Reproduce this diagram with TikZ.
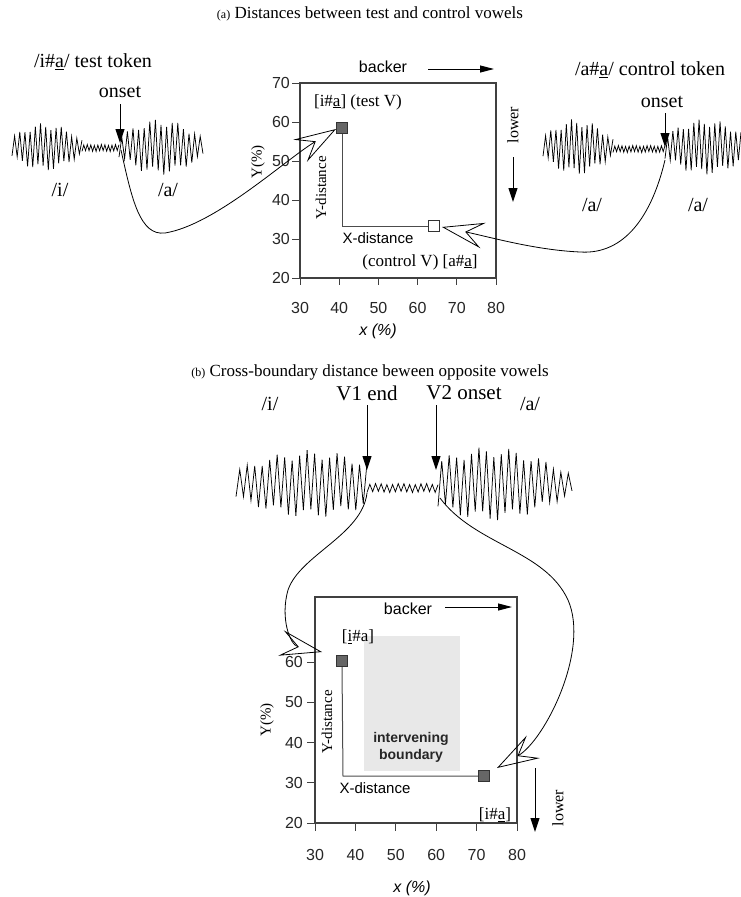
\documentclass[tikz,border=0pt]{standalone}
\usepackage{fontspec}
\setmainfont{Liberation Serif}
\setsansfont{Liberation Sans}
\usetikzlibrary{arrows.meta}
\newcommand\zzwave[8]{%
  \pgfmathtruncatemacro\zzN{round((#2-#1)/#5)}%
  \pgfmathtruncatemacro\zzM{\zzN+1}%
  \pgfmathsetmacro\zzD{(#2-#1)/\zzN}%
  \draw[wave] plot[domain=0:\zzN, samples=\zzM, variable=\zi]
   ({#1+\zi*\zzD},{#3+cos(180*\zi)*#4*(0.15+0.85*sin(180*(#6+(#7-#6)*\zi/\zzN)))*(0.86+0.14*sin(\zi*137+#8))});%
}
\tikzset{
  wave/.style={line width=0.75pt, line join=miter},
  chartframe/.style={draw=black!75, line width=1.2pt},
  tk/.style={draw=black!75, line width=0.9pt},
  ticklab/.style={font=\sffamily\fontsize{16}{18}\selectfont, text=black!85, inner sep=1pt},
  serif/.style={font=\fontsize{20}{23}\selectfont, inner sep=1pt},
  small serif/.style={font=\fontsize{17}{20}\selectfont, inner sep=1pt},
  sanslab/.style={font=\sffamily\fontsize{15}{18}\selectfont, inner sep=1pt},
  caption/.style={font=\fontsize{17}{20}\selectfont, inner sep=1pt},
  conn/.style={line width=0.8pt, -{Stealth[open,length=42pt,width=26pt,inset=17pt]}},
  downarrow/.style={line width=1pt, -{Triangle[length=14pt,width=9pt]}},
  sidearrow/.style={line width=1pt, -{Triangle[length=14pt,width=7pt]}},
  sq/.style={draw=black!80, fill=black!60, line width=1.2pt, minimum size=11pt, inner sep=0pt},
  opensq/.style={draw=black!80, fill=white, line width=1pt, minimum size=11pt, inner sep=0pt},
  distline/.style={draw=black!70, line width=1pt},
}
\begin{document}
\begin{tikzpicture}[x=1pt,y=-1pt]
\useasboundingbox (0,0) rectangle (741,897);
% ---------------- (a) ----------------
\node[caption] (capa) at (370,14) {{\fontsize{12}{14}\selectfont(a)} Distances between test and control vowels};
% left token
\node[serif] (tok1) at (93,62) {/i\#\underline{a}/ test token};
\node[serif] (on1) at (120,92) {onset};
\coordinate (on1a) at (120,104);
\coordinate (on1b) at (120,143);
\draw[downarrow] (on1a) -- (on1b);
\zzwave{12}{82}{147}{24}{2.6}{0.1}{0.95}{11}
\zzwave{82}{119}{148}{3.5}{1.8}{0.5}{0.5}{40}
\zzwave{119}{203}{147}{28}{2.8}{0.08}{0.94}{73}
\node[serif] (i1) at (60,190) {/i/};
\node[serif] (a1) at (168,190) {/a/};
% right token
\node[serif] (tok2) at (650,70) {/a\#\underline{a}/ control token};
\node[serif] (on2) at (662,102) {onset};
\coordinate (on2a) at (665,113);
\coordinate (on2b) at (665,147);
\draw[downarrow] (on2a) -- (on2b);
\zzwave{543}{613}{147}{28}{2.6}{0.08}{0.95}{21}
\zzwave{613}{665}{149}{3.5}{1.8}{0.5}{0.5}{55}
\zzwave{665}{741}{147}{28}{2.6}{0.1}{0.85}{91}
\node[serif] (a2) at (592,205) {/a/};
\node[serif] (a3) at (698,205) {/a/};
% top chart
\draw[chartframe] (300,83) rectangle (496,278);
\foreach \v in {30,40,...,80}{
  \draw[tk] ({300+(\v-30)*3.92},278) -- ++(0,7);
  \node[ticklab] (xa\v) at ({300+(\v-30)*3.92},308) {\v};
}
\foreach \v in {20,30,...,70}{
  \draw[tk] (300,{278-(\v-20)*3.9}) -- ++(-8,0);
  \node[ticklab, anchor=east] (ya\v) at (291,{278-(\v-20)*3.9}) {\v};
}
\node[sanslab, font=\sffamily\itshape\fontsize{16}{18}\selectfont] (xlaba) at (378,331) {x (\%)};
\node[small serif, rotate=90, font=\fontsize{15}{18}\selectfont] (ylaba) at (258,162) {Y(\%)};
\node[sanslab, font=\sffamily\fontsize{16}{18}\selectfont] (backa) at (383,67) {backer};
\coordinate (backa1) at (428,69);
\coordinate (backa2) at (494,69);
\draw[sidearrow] (backa1) -- (backa2);
\node[small serif, rotate=90, font=\fontsize{16}{18}\selectfont] (lowa) at (513,125) {lower};
\coordinate (lowa1) at (513,157);
\coordinate (lowa2) at (513,202);
\draw[downarrow] (lowa1) -- (lowa2);
\node[small serif] (testv) at (358,102) {[i\#\underline{a}] (test V)};
\node[sq] (sqa1) at (342,128) {};
\node[opensq] (sqa2) at (434,226) {};
\coordinate (corna) at (342,226);
\draw[distline] (sqa1.south) -- (corna) -- (sqa2.west);
\node[small serif, rotate=90, font=\fontsize{15}{18}\selectfont] (ydista) at (321,188) {Y-distance};
\node[sanslab] (xdista) at (378,238) {X-distance};
\node[small serif] (ctrlv) at (420,262) {(control V) [a\#\underline{a}]};
% connectors (a)
\coordinate (w1on) at (121,150);
\coordinate (tip1) at (336,129);
\draw[conn] (w1on) .. controls (132,200) and (140,236) .. (165,233) .. controls (215,225) and (285,160) .. (tip1);
\coordinate (w2on) at (665,160);
\coordinate (tip2) at (442,227);
\draw[conn] (w2on) .. controls (652,215) and (625,255) .. (580,252) .. controls (535,250) and (490,237) .. (tip2);
% ---------------- (b) ----------------
\node[caption] (capb) at (370,372) {{\fontsize{12}{14}\selectfont(b)} Cross-boundary distance beween opposite vowels};
\node[serif] (i4) at (270,404) {/i/};
\node[serif, font=\fontsize{21}{24}\selectfont] (v1end) at (367,393) {V1 end};
\node[serif, font=\fontsize{21}{24}\selectfont] (v2on) at (464,393) {V2 onset};
\node[serif] (a4) at (530,404) {/a/};
\coordinate (v1a) at (367,405);
\coordinate (v1b) at (367,470);
\draw[downarrow] (v1a) -- (v1b);
\coordinate (v2a) at (436,405);
\coordinate (v2b) at (436,470);
\draw[downarrow] (v2a) -- (v2b);
\zzwave{236}{367}{484}{34}{3.7}{0.1}{0.8}{17}
\zzwave{367}{438}{488}{4.5}{2.8}{0.5}{0.5}{63}
\zzwave{438}{572}{484}{37}{3.7}{0.2}{0.96}{29}
% bottom chart
\fill[black!9] (364,636) rectangle (460,771);
\node[font=\sffamily\bfseries\fontsize{14}{17}\selectfont, align=center, text=black!85] (interv) at (411,747) {intervening\\boundary};
\draw[chartframe] (315,597) rectangle (517,823);
\foreach \v in {30,40,...,80}{
  \draw[tk] ({315+(\v-30)*4.04},823) -- ++(0,8);
  \node[ticklab] (xb\v) at ({315+(\v-30)*4.04},855) {\v};
}
\foreach \v in {20,30,...,60}{
  \draw[tk] (315,{823-(\v-20)*4.02}) -- ++(-8,0);
  \node[ticklab, anchor=east] (yb\v) at (304,{823-(\v-20)*4.02}) {\v};
}
\node[sanslab, font=\sffamily\itshape\fontsize{16}{18}\selectfont] (xlabb) at (412,888) {x (\%)};
\node[small serif, rotate=90, font=\fontsize{15}{18}\selectfont] (ylabb) at (267,720) {Y(\%)};
\node[sanslab, font=\sffamily\fontsize{16}{18}\selectfont] (backb) at (408,609) {backer};
\coordinate (backb1) at (445,607);
\coordinate (backb2) at (512,607);
\draw[sidearrow] (backb1) -- (backb2);
\node[small serif, rotate=90, font=\fontsize{16}{18}\selectfont] (lowb) at (558,808) {lower};
\coordinate (lowb1) at (535,768);
\coordinate (lowb2) at (535,832);
\draw[downarrow] (lowb1) -- (lowb2);
\node[small serif] (iab1) at (358,637) {[\underline{i}\#a]};
\node[sq] (sqb1) at (342,661) {};
\node[sq] (sqb2) at (484,776) {};
\coordinate (cornb) at (343,776);
\draw[distline] (sqb1.south) -- (cornb) -- (sqb2.west);
\node[small serif, rotate=90, font=\fontsize{15}{18}\selectfont] (ydistb) at (327,722) {Y-distance};
\node[sanslab] (xdistb) at (375,788) {X-distance};
\node[small serif] (iab2) at (495,815) {[i\#\underline{a}]};
% connectors (b)
\coordinate (v1w) at (367,493);
\coordinate (tip3) at (322,652);
\draw[conn] (v1w) .. controls (362,535) and (300,555) .. (288,590) .. controls (280,618) and (290,645) .. (tip3);
\coordinate (v2w) at (440,498);
\coordinate (tip4) at (497,768);
\draw[conn] (v2w) .. controls (475,545) and (545,550) .. (568,600) .. controls (590,650) and (545,740) .. (tip4);
\end{tikzpicture}
\end{document}
